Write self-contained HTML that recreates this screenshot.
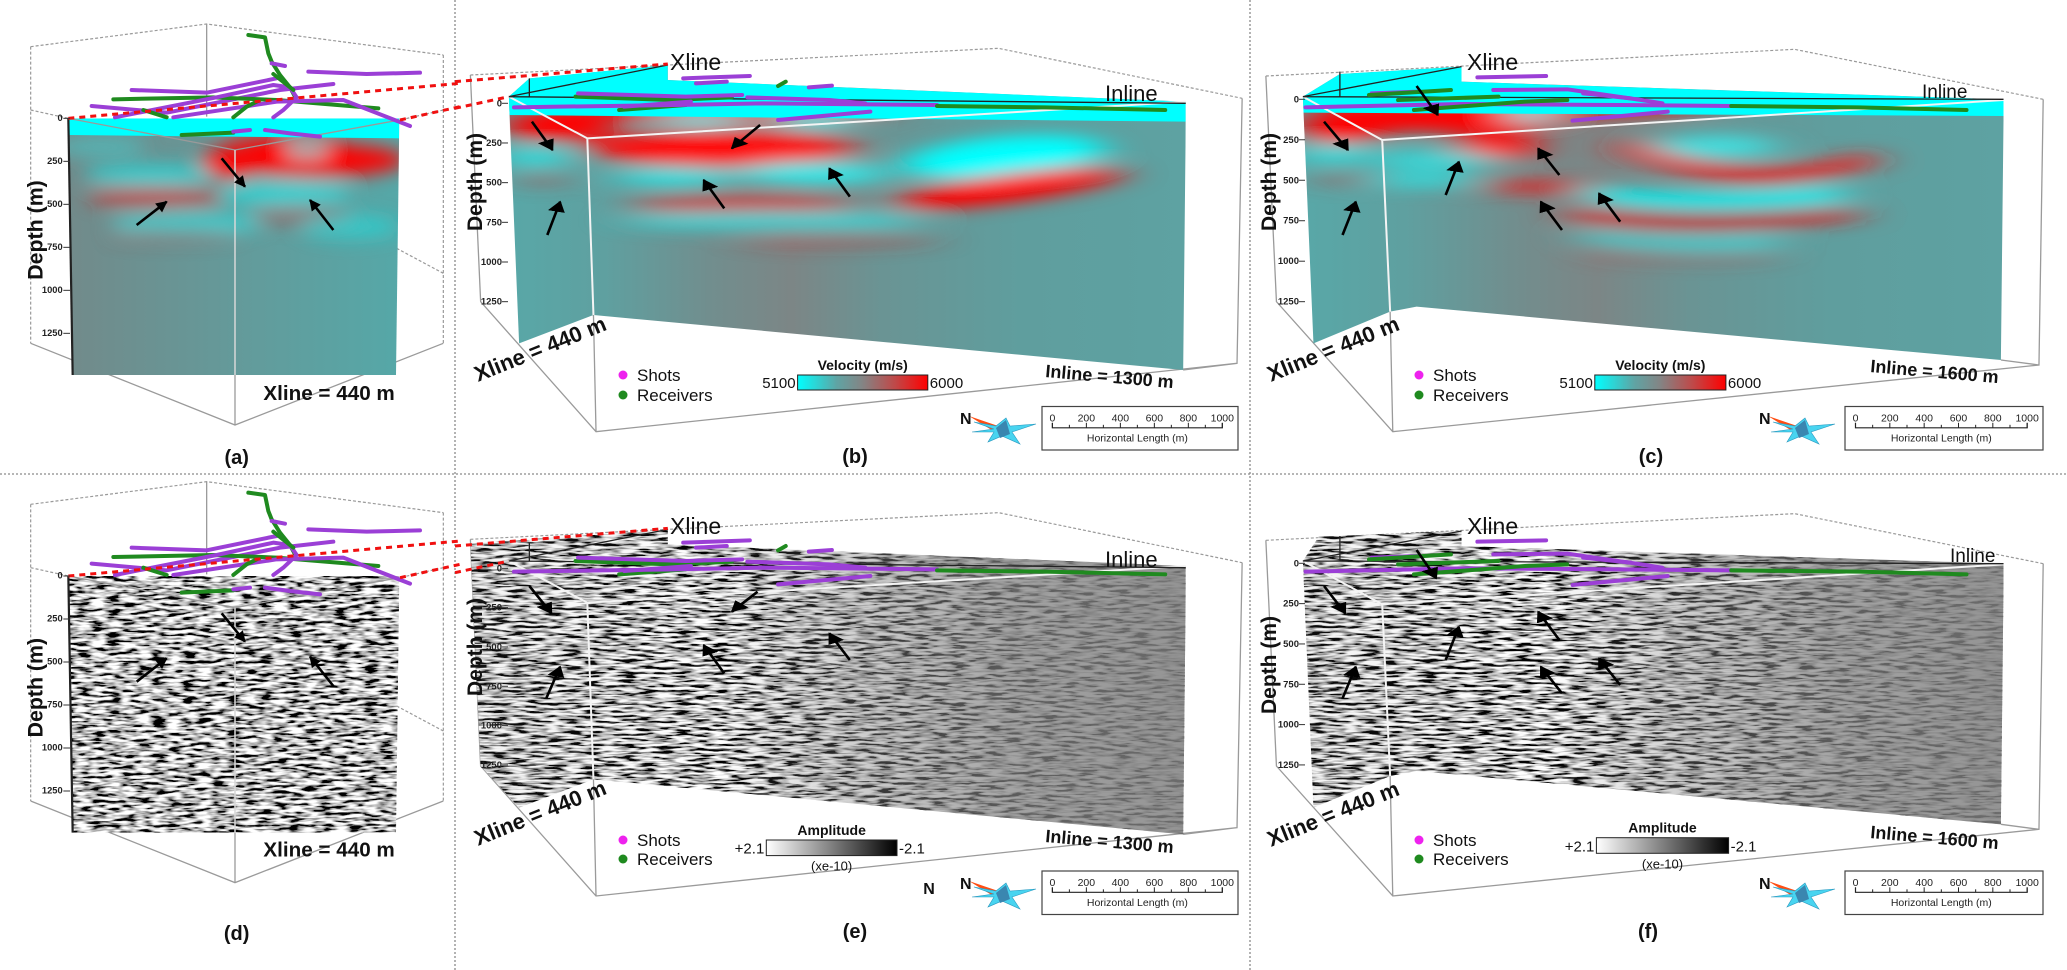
<!DOCTYPE html>
<html><head><meta charset="utf-8">
<style>
html,body{margin:0;padding:0;background:#fff;}
svg{display:block;font-family:"Liberation Sans",Arial,sans-serif;}
.dot{fill:none;stroke:#9a9a9a;stroke-width:1.2;stroke-dasharray:3 2;vector-effect:non-scaling-stroke}
.gl{fill:none;stroke:#9a9a9a;stroke-width:1.3;vector-effect:non-scaling-stroke}
.wl{fill:none;stroke:#f4f4f4;stroke-width:2;vector-effect:non-scaling-stroke}
.bl{fill:none;stroke:#222;stroke-width:1.3;vector-effect:non-scaling-stroke}
.pu{fill:none;stroke:#9b3fd6;stroke-width:4;stroke-linecap:round;stroke-linejoin:round;vector-effect:non-scaling-stroke}
.gr{fill:none;stroke:#1f8a1f;stroke-width:4;stroke-linecap:round;stroke-linejoin:round;vector-effect:non-scaling-stroke}
.rd{fill:none;stroke:#f01010;stroke-width:3;stroke-dasharray:6 5;vector-effect:non-scaling-stroke}
.ar{fill:none;stroke:#000;stroke-width:2.6;vector-effect:non-scaling-stroke}
.sep{fill:none;stroke:#8a8a8a;stroke-width:1.3;stroke-dasharray:2 2}
.lbl{font-weight:bold;fill:#111}
</style></head>
<body>
<svg id="fig" width="2067" height="970" viewBox="0 0 2067 970">
<defs>
  <marker id="ahA" viewBox="0 0 10 10" refX="9" refY="5" markerWidth="40" markerHeight="34" markerUnits="userSpaceOnUse" orient="auto"><path d="M0,0 L10,5 L0,10 z" fill="#000"/></marker>
  <marker id="ahB" viewBox="0 0 10 10" refX="9" refY="5" markerWidth="34" markerHeight="34" markerUnits="userSpaceOnUse" orient="auto"><path d="M0,0 L10,5 L0,10 z" fill="#000"/></marker>
  <linearGradient id="baseA" x1="0" x2="1" y1="0" y2="0"><stop offset="0" stop-color="#728a8a"/><stop offset="0.5" stop-color="#649a9a"/><stop offset="1" stop-color="#55a8a8"/></linearGradient>
  <linearGradient id="baseB" x1="0" x2="1" y1="0" y2="0"><stop offset="0" stop-color="#58a8a8"/><stop offset="0.15" stop-color="#5fa0a0"/><stop offset="0.3" stop-color="#718e8e"/><stop offset="0.42" stop-color="#7c8686"/><stop offset="0.55" stop-color="#6a9494"/><stop offset="0.75" stop-color="#5f9e9e"/><stop offset="1" stop-color="#5ea2a2"/></linearGradient>
  <linearGradient id="velBar" x1="0" x2="1" y1="0" y2="0"><stop offset="0" stop-color="#00ffff"/><stop offset="0.3" stop-color="#5fa4a4"/><stop offset="0.5" stop-color="#848484"/><stop offset="0.75" stop-color="#c04848"/><stop offset="1" stop-color="#ff0000"/></linearGradient>
  <linearGradient id="ampBar" x1="0" x2="1" y1="0" y2="0"><stop offset="0" stop-color="#ffffff"/><stop offset="1" stop-color="#000000"/></linearGradient>
  <linearGradient id="fadeB" x1="0" x2="1" y1="0" y2="0"><stop offset="0" stop-color="#808080" stop-opacity="0.1"/><stop offset="0.35" stop-color="#808080" stop-opacity="0"/><stop offset="0.55" stop-color="#808080" stop-opacity="0.4"/><stop offset="0.75" stop-color="#808080" stop-opacity="0.72"/><stop offset="1" stop-color="#808080" stop-opacity="0.85"/></linearGradient>
  <filter id="blurA" x="-20%" y="-50%" width="140%" height="200%"><feGaussianBlur stdDeviation="28"/></filter>
  <filter id="blurB" x="-20%" y="-50%" width="140%" height="200%"><feGaussianBlur stdDeviation="40 24"/></filter>
  <filter id="seisA" x="0" y="0" width="1" height="1"><feTurbulence type="fractalNoise" baseFrequency="0.022 0.11" numOctaves="2" seed="4"/><feColorMatrix type="matrix" values="3.6 0 0 0 -1.3  3.6 0 0 0 -1.3  3.6 0 0 0 -1.3  0 0 0 0 1"/></filter>
  <filter id="seisB" x="0" y="0" width="1" height="1"><feTurbulence type="fractalNoise" baseFrequency="0.028 0.13" numOctaves="2" seed="7"/><feColorMatrix type="matrix" values="3.6 0 0 0 -1.3  3.6 0 0 0 -1.3  3.6 0 0 0 -1.3  0 0 0 0 1"/></filter>
  <clipPath id="clipA"><polygon points="205,355 1198,355 1188,1125 218,1125"/></clipPath>
  <clipPath id="clipB"><polygon points="105,290 145,235 415,195 415,240 1425,305 1425,370 1420,1110 270,945 125,1030"/></clipPath>
  <clipPath id="clipC"><polygon points="100,290 170,222 400,200 400,245 1425,298 1425,350 1420,1080 315,920 265,935 120,1030"/></clipPath>
  <clipPath id="clipE"><polygon points="30,237 415,197 415,240 1425,305 1425,370 1420,1110 270,945 125,1030 50,905"/></clipPath>
  <clipPath id="clipF"><polygon points="100,290 130,217 400,200 400,245 1425,298 1425,350 1420,1080 315,920 265,935 120,1030"/></clipPath>

  <g id="frameA">
    <path class="dot" d="M92,140 L620,72 L1330,165 M92,140 L92,1030 M1330,165 L1330,1030 M92,330 L205,355 M1330,330 L1200,360 M1190,745 L1330,820"/>
    <path class="gl" d="M620,72 L620,350 M92,1030 L705,1275 L1330,1030"/>
  </g>
  <g id="frameA2">
    <path class="gl" d="M205,355 L705,450 L1198,360 M705,1125 L705,1275"/>
    <path d="M705,450 L705,1125" fill="none" stroke="#d8d8d8" stroke-width="1.5" vector-effect="non-scaling-stroke"/>
    <path class="bl" d="M205,355 L218,1125" style="stroke-width:2.2"/>
  </g>
  <g id="acqA">
    <polyline class="gr" points="745,105 795,112 805,160 815,185 840,225 870,262 885,290"/>
    <polyline class="pu" points="815,190 855,198"/>
    <polyline class="pu" points="925,215 1100,222 1260,218"/>
    <polyline class="pu" points="395,270 620,278 830,235"/>
    <polyline class="pu" points="275,318 500,338 840,270 1000,252"/>
    <polyline class="gr" points="340,298 640,292 830,300 1135,325"/>
    <polyline class="pu" points="345,352 650,292 820,255 870,262 890,292 850,330 820,352"/>
    <polyline class="pu" points="520,352 830,305 1030,300 1230,378"/>
    <polyline class="gr" points="430,330 500,352"/>
    <polyline class="gr" points="700,352 740,320 780,300"/>
    <polyline class="gr" points="820,222 880,270"/>
    <polyline class="gr" points="545,405 700,398"/>
    <polyline class="pu" points="700,395 750,390"/>
    <polyline class="pu" points="795,390 870,400 960,410"/>
    <path class="rd" d="M205,355 L1380,250 M1200,360 L1380,320"/>
  </g>

  <g id="frameB">
    <path class="dot" d="M30,225 L1060,145 L1535,295"/>
    <path class="gl" d="M30,225 L50,905 L275,1295 L1525,1090 L1535,295 M270,945 L275,1295 M1420,1110 L1525,1090"/>
  </g>
  <g id="frameB2">
    <path class="wl" d="M105,290 L258,415 L1425,305 M258,415 L270,945"/>
    <path class="bl" d="M105,290 L415,195 M105,290 L1425,310 M145,235 L145,290"/>
  </g>
  <g id="acqB">
    <polyline class="pu" points="445,235 575,228"/>
    <polyline class="pu" points="470,250 530,245"/>
    <polyline class="gr" points="630,258 645,245"/>
    <polyline class="pu" points="690,262 735,257"/>
    <polyline class="gr" points="235,290 420,300 540,292"/>
    <polyline class="pu" points="240,280 450,290 560,285"/>
    <polyline class="gr" points="320,330 450,315"/>
    <polyline class="pu" points="115,322 430,315 600,310 940,315"/>
    <polyline class="pu" points="570,292 730,300 800,310"/>
    <polyline class="gr" points="940,318 1150,322 1385,330"/>
    <polyline class="pu" points="630,360 810,335"/>
    <polyline class="pu" points="330,320 460,305"/>
  </g>
  <g id="frameC">
    <path class="dot" d="M30,228 L1030,148 L1500,298"/>
    <path class="gl" d="M30,228 L50,905 L270,1295 L1492,1095 L1500,298 M265,935 L270,1295 M1420,1080 L1492,1095"/>
  </g>
  <g id="frameC2">
    <path class="wl" d="M100,290 L250,420 L1425,300 M250,420 L265,935"/>
    <path class="bl" d="M100,290 L400,200 M100,290 L1425,298 M170,215 L170,290"/>
  </g>
  <g id="acqC">
    <polyline class="pu" points="430,232 560,228"/>
    <polyline class="pu" points="230,280 320,275"/>
    <polyline class="gr" points="225,285 380,270"/>
    <polyline class="gr" points="280,300 470,290"/>
    <polyline class="pu" points="460,270 600,268 740,300 780,310"/>
    <polyline class="pu" points="105,322 400,312 700,315 910,318"/>
    <polyline class="gr" points="310,330 520,305 600,300"/>
    <polyline class="pu" points="630,280 720,295"/>
    <polyline class="pu" points="610,362 790,335"/>
    <polyline class="gr" points="910,318 1150,322 1355,330"/>
  </g>
</defs>

<!-- separators -->
<path class="sep" d="M455,0 L455,970 M1250,0 L1250,970 M0,474 L2067,474"/>

<!-- PANEL A -->
<g id="panelA" transform="scale(0.33333)">
  <use href="#frameA"/>
  <g clip-path="url(#clipA)">
    <rect x="200" y="350" width="1010" height="790" fill="url(#baseA)"/>
    <g filter="url(#blurA)">
      <ellipse cx="300" cy="440" rx="140" ry="30" fill="#3fd0d0" opacity="0.6"/>
      <ellipse cx="950" cy="480" rx="270" ry="50" fill="#ff0000"/>
      <ellipse cx="690" cy="490" rx="90" ry="45" fill="#ff0000"/>
      <ellipse cx="850" cy="428" rx="180" ry="18" fill="#ff0000"/>
      <ellipse cx="920" cy="450" rx="70" ry="16" fill="#3fd8d8"/>
      <ellipse cx="450" cy="525" rx="200" ry="30" fill="#20e0e0" opacity="0.8"/>
      <ellipse cx="470" cy="592" rx="210" ry="26" fill="#e02020" opacity="0.8"/>
      <ellipse cx="850" cy="580" rx="200" ry="35" fill="#20e0e0" opacity="0.8"/>
      <ellipse cx="900" cy="645" rx="150" ry="28" fill="#c03030" opacity="0.5"/>
      <ellipse cx="560" cy="670" rx="230" ry="30" fill="#20e0e0" opacity="0.8"/>
      <ellipse cx="1050" cy="680" rx="150" ry="35" fill="#20e0e0" opacity="0.6"/>
      <ellipse cx="520" cy="705" rx="200" ry="18" fill="#c03030" opacity="0.4"/>
    </g>
    <polygon points="205,355 1198,355 1198,415 205,405" fill="#00ffff"/>
  </g>
  <use href="#frameA2"/>
  <use href="#acqA"/>
  <g>
    <path class="ar" d="M410,675 L500,605" marker-end="url(#ahA)"/>
    <path class="ar" d="M665,475 L735,560" marker-end="url(#ahA)"/>
    <path class="ar" d="M1000,690 L930,600" marker-end="url(#ahA)"/>
  </g>
  <g id="ticksA"></g>
  <text class="lbl" x="0" y="0" font-size="64" transform="translate(128,690) rotate(-90)" text-anchor="middle">Depth (m)</text>
  <text class="lbl" x="790" y="1200" font-size="62">Xline = 440 m</text>
  <text class="lbl" x="710" y="1392" font-size="60" text-anchor="middle">(a)</text>
</g>

<!-- PANEL D -->
<g id="panelD" transform="translate(0,470) scale(0.33333) translate(0,-37)">
  <use href="#frameA"/>
  <g clip-path="url(#clipA)">
    <rect x="200" y="350" width="1010" height="790" fill="#808080" filter="url(#seisA)"/>
  </g>
  <use href="#frameA2"/>
  <use href="#acqA"/>
  <g>
    <path class="ar" d="M410,672 L500,602" marker-end="url(#ahA)"/>
    <path class="ar" d="M665,467 L735,552" marker-end="url(#ahA)"/>
    <path class="ar" d="M1000,685 L930,597" marker-end="url(#ahA)"/>
  </g>
  <g id="ticksD"></g>
  <text class="lbl" x="0" y="0" font-size="64" transform="translate(128,690) rotate(-90)" text-anchor="middle">Depth (m)</text>
  <text class="lbl" x="790" y="1197" font-size="62">Xline = 440 m</text>
  <text class="lbl" x="710" y="1447" font-size="60" text-anchor="middle">(d)</text>
</g>

<!-- PANEL B -->
<g id="panelB" transform="translate(455,0) scale(0.5128,0.33333)">
  <use href="#frameB"/>
  <g clip-path="url(#clipB)">
    <rect x="90" y="180" width="1350" height="950" fill="url(#baseB)"/>
    <g filter="url(#blurB)">
      <ellipse cx="500" cy="335" rx="360" ry="22" fill="#ff0000"/>
      <ellipse cx="180" cy="378" rx="90" ry="45" fill="#ff0000"/>
      <ellipse cx="270" cy="372" rx="40" ry="60" fill="#ff0000"/>
      <ellipse cx="520" cy="445" rx="260" ry="55" fill="#ff1010"/>
      <ellipse cx="480" cy="362" rx="90" ry="20" fill="#30e8e8"/>
      <ellipse cx="700" cy="362" rx="80" ry="25" fill="#30e8e8"/>
      <ellipse cx="1070" cy="470" rx="200" ry="60" fill="#00ffff" transform="rotate(-8 1070 470)"/>
      <ellipse cx="700" cy="520" rx="150" ry="35" fill="#30e8e8"/>
      <ellipse cx="430" cy="530" rx="120" ry="30" fill="#30e0e0"/>
      <ellipse cx="1080" cy="565" rx="230" ry="42" fill="#ff0000" transform="rotate(-12 1080 565)"/>
      <ellipse cx="560" cy="615" rx="220" ry="25" fill="#e02020" opacity="0.9"/>
      <ellipse cx="620" cy="662" rx="300" ry="30" fill="#30e0e0" opacity="0.8"/>
      <ellipse cx="750" cy="722" rx="200" ry="20" fill="#c03838" opacity="0.45"/>
      <ellipse cx="160" cy="470" rx="60" ry="30" fill="#30e0e0"/>
      <ellipse cx="170" cy="540" rx="60" ry="20" fill="#c04040" opacity="0.5"/>
    </g>
    <polygon points="105,290 145,235 415,195 415,240 1425,305 1425,365 105,345" fill="#00ffff"/>
  </g>
  <use href="#frameB2"/>
  <use href="#acqB"/>
  <path class="rd" d="M0,245 L415,192 M0,325 L105,290"/>
  <g>
    <path class="ar" d="M150,365 L190,450" marker-end="url(#ahB)"/>
    <path class="ar" d="M180,705 L205,605" marker-end="url(#ahB)"/>
    <path class="ar" d="M595,375 L540,445" marker-end="url(#ahB)"/>
    <path class="ar" d="M525,625 L485,540" marker-end="url(#ahB)"/>
    <path class="ar" d="M770,590 L730,505" marker-end="url(#ahB)"/>
  </g>
</g>

<!-- PANEL E -->
<g id="panelE" transform="translate(455,480) scale(0.5128,0.33333)">
  <g transform="translate(0,-47)">
    <use href="#frameB"/>
    <g clip-path="url(#clipE)">
      <rect x="20" y="180" width="1420" height="950" fill="#808080" filter="url(#seisB)"/>
      <rect x="20" y="180" width="1420" height="950" fill="url(#fadeB)"/>
    </g>
    <use href="#frameB2"/>
    <use href="#acqB"/>
    <path class="rd" d="M0,245 L415,192 M0,325 L105,290"/>
  </g>
  <g>
    <path class="ar" d="M145,318 L188,400" marker-end="url(#ahB)"/>
    <path class="ar" d="M178,655 L205,560" marker-end="url(#ahB)"/>
    <path class="ar" d="M590,335 L540,395" marker-end="url(#ahB)"/>
    <path class="ar" d="M525,580 L485,495" marker-end="url(#ahB)"/>
    <path class="ar" d="M770,540 L730,460" marker-end="url(#ahB)"/>
  </g>
</g>

<!-- PANEL C -->
<g id="panelC" transform="translate(1250,0) scale(0.5288,0.33333)">
  <use href="#frameC"/>
  <g clip-path="url(#clipC)">
    <rect x="90" y="180" width="1350" height="920" fill="url(#baseB)"/>
    <g filter="url(#blurB)">
      <ellipse cx="500" cy="325" rx="380" ry="22" fill="#ff0000"/>
      <ellipse cx="170" cy="380" rx="80" ry="55" fill="#ff0000"/>
      <ellipse cx="250" cy="360" rx="40" ry="50" fill="#ff0000"/>
      <ellipse cx="420" cy="360" rx="180" ry="40" fill="#ff0000"/>
      <ellipse cx="470" cy="440" rx="80" ry="40" fill="#ff1010"/>
      <ellipse cx="530" cy="340" rx="40" ry="25" fill="#00ffff"/>
      <ellipse cx="880" cy="440" rx="120" ry="35" fill="#40e0e0"/>
      <path d="M700,430 Q930,600 1180,470" fill="none" stroke="#f02020" stroke-width="45"/>
      <path d="M640,580 Q850,620 1120,580" fill="none" stroke="#00ffff" stroke-width="40"/>
      <path d="M600,640 Q850,700 1150,640" fill="none" stroke="#e02020" stroke-width="35"/>
      <path d="M620,705 Q800,745 1000,722" fill="none" stroke="#30e0e0" stroke-width="30"/>
      <path d="M640,760 Q820,790 1000,770" fill="none" stroke="#c04040" stroke-width="20" opacity="0.5"/>
      <ellipse cx="540" cy="560" rx="100" ry="20" fill="#e02020"/>
      <ellipse cx="350" cy="480" rx="120" ry="25" fill="#30e0e0"/>
      <ellipse cx="330" cy="540" rx="100" ry="20" fill="#30e0e0"/>
      <ellipse cx="160" cy="460" rx="60" ry="30" fill="#30e0e0"/>
      <ellipse cx="170" cy="540" rx="60" ry="20" fill="#c04040" opacity="0.5"/>
    </g>
    <polygon points="100,290 170,222 400,200 400,245 1425,298 1425,348 100,338" fill="#00ffff"/>
  </g>
  <use href="#frameC2"/>
  <use href="#acqC"/>
  <g>
    <path class="ar" d="M140,365 L185,450" marker-end="url(#ahB)"/>
    <path class="ar" d="M175,705 L200,605" marker-end="url(#ahB)"/>
    <path class="ar" d="M315,258 L355,345" marker-end="url(#ahB)"/>
    <path class="ar" d="M370,585 L395,485" marker-end="url(#ahB)"/>
    <path class="ar" d="M585,525 L545,445" marker-end="url(#ahB)"/>
    <path class="ar" d="M590,690 L550,605" marker-end="url(#ahB)"/>
    <path class="ar" d="M700,665 L660,580" marker-end="url(#ahB)"/>
  </g>
</g>

<!-- PANEL F -->
<g id="panelF" transform="translate(1250,480) scale(0.5288,0.33333)">
  <g transform="translate(0,-47)">
    <use href="#frameC"/>
    <g clip-path="url(#clipF)">
      <rect x="90" y="180" width="1350" height="920" fill="#808080" filter="url(#seisB)"/>
      <rect x="90" y="180" width="1350" height="920" fill="url(#fadeB)"/>
    </g>
    <use href="#frameC2"/>
    <use href="#acqC"/>
  </g>
  <g>
    <path class="ar" d="M140,318 L180,400" marker-end="url(#ahB)"/>
    <path class="ar" d="M175,655 L200,560" marker-end="url(#ahB)"/>
    <path class="ar" d="M315,210 L352,295" marker-end="url(#ahB)"/>
    <path class="ar" d="M370,540 L395,440" marker-end="url(#ahB)"/>
    <path class="ar" d="M585,480 L545,395" marker-end="url(#ahB)"/>
    <path class="ar" d="M590,640 L550,560" marker-end="url(#ahB)"/>
    <path class="ar" d="M700,615 L660,535" marker-end="url(#ahB)"/>
  </g>
</g>

<!-- TEXT OVERLAYS for wide panels (actual px) -->
<g id="textB">
  <text x="670" y="70" font-size="23" fill="#111">Xline</text>
  <text x="1105" y="101" font-size="22" fill="#111">Inline</text>
  <text class="lbl" x="0" y="0" font-size="22" transform="translate(478,382) rotate(-22)">Xline = 440 m</text>
  <text class="lbl" x="0" y="0" font-size="18" transform="translate(1045,377) rotate(5)">Inline = 1300 m</text>
  <text class="lbl" x="0" y="0" font-size="21" transform="translate(482,182) rotate(-90)" text-anchor="middle">Depth (m)</text>
  <text class="lbl" x="855" y="463" font-size="20" text-anchor="middle">(b)</text>
</g>
<g id="textE">
  <text x="670" y="534" font-size="23" fill="#111">Xline</text>
  <text x="1105" y="567" font-size="22" fill="#111">Inline</text>
  <text class="lbl" x="0" y="0" font-size="22" transform="translate(478,846) rotate(-22)">Xline = 440 m</text>
  <text class="lbl" x="0" y="0" font-size="18" transform="translate(1045,842) rotate(5)">Inline = 1300 m</text>
  <text class="lbl" x="0" y="0" font-size="21" transform="translate(482,647) rotate(-90)" text-anchor="middle">Depth (m)</text>
  <text class="lbl" x="929" y="894" font-size="16" text-anchor="middle">N</text>
  <text class="lbl" x="855" y="938" font-size="20" text-anchor="middle">(e)</text>
</g>
<g id="textC">
  <text x="1467" y="70" font-size="23" fill="#111">Xline</text>
  <text x="1922" y="98" font-size="19" fill="#111">Inline</text>
  <text class="lbl" x="0" y="0" font-size="22" transform="translate(1271,382) rotate(-22)">Xline = 440 m</text>
  <text class="lbl" x="0" y="0" font-size="18" transform="translate(1870,372) rotate(5)">Inline = 1600 m</text>
  <text class="lbl" x="0" y="0" font-size="21" transform="translate(1276,182) rotate(-90)" text-anchor="middle">Depth (m)</text>
  <text class="lbl" x="1651" y="463" font-size="20" text-anchor="middle">(c)</text>
</g>
<g id="textF">
  <text x="1467" y="534" font-size="23" fill="#111">Xline</text>
  <text x="1950" y="562" font-size="19" fill="#111">Inline</text>
  <text class="lbl" x="0" y="0" font-size="22" transform="translate(1271,847) rotate(-22)">Xline = 440 m</text>
  <text class="lbl" x="0" y="0" font-size="18" transform="translate(1870,838) rotate(5)">Inline = 1600 m</text>
  <text class="lbl" x="0" y="0" font-size="21" transform="translate(1276,665) rotate(-90)" text-anchor="middle">Depth (m)</text>
  <text class="lbl" x="1648" y="938" font-size="20" text-anchor="middle">(f)</text>
</g>
<g id="dyn"></g>
</svg>

<script>
// ---- data arrays ----
const depthTicks = [0, 250, 500, 750, 1000, 1250];
const scaleLabels = [0, 200, 400, 600, 800, 1000];
const velocityRange = ["5100", "6000"];
const amplitudeRange = ["+2.1", "-2.1"];
const legendItems = ["Shots", "Receivers"];
const legendColors = ["#ee22ee", "#1f8a1f"];

const NS = "http://www.w3.org/2000/svg";
const dyn = document.getElementById("dyn");
function mk(tag, attrs, parent) {
  const el = document.createElementNS(NS, tag);
  for (const k in attrs) el.setAttribute(k, attrs[k]);
  (parent || dyn).appendChild(el);
  return el;
}

function axisA(v) { return 355 + v * 0.516; }
function depthPanels() {
  return [
    {x: 506, y0: 103.3, k: 0.1587},
    {x: 506, y0: 568.3, k: 0.1573},
    {x: 1303, y0: 99.3, k: 0.1619},
    {x: 1303, y0: 563.3, k: 0.1613}
  ];
}

["ticksA", "ticksD"].forEach(function (gid) {
  const g = document.getElementById(gid);
  depthTicks.forEach(function (v) {
    const y = axisA(v);
    const t = mk("line", {x1: 190, x2: 210, y1: y, y2: y, stroke: "#333", "stroke-width": 3}, g);
    
    
    const lb = mk("text", {x: 188, y: y + 8, "font-size": 28, "text-anchor": "end", "font-weight": "bold", fill: "#222"}, g);
    
    
    lb.textContent = v;
  });
});

depthPanels().forEach(function (p) {
  depthTicks.forEach(function (v) {
    const y = p.y0 + v * p.k;
    const t = mk("line", {x1: p.x - 4, x2: p.x + 2, y1: y, y2: y, stroke: "#333", "stroke-width": 1});
    
    
    const lb = mk("text", {x: p.x - 4, y: y + 3, "font-size": 9.5, "text-anchor": "end", "font-weight": "bold", fill: "#222"});
    
    
    lb.textContent = v;
  });
});

function legend(x, y0, dy) {
  legendItems.forEach(function (name, i) {
    const c = mk("circle", {cx: x, cy: y0 + i * dy - 6, r: 4.5, fill: legendColors[i]});
    
    
    const t = mk("text", {x: x + 14, y: y0 + i * dy, "font-size": 17, fill: "#111"});
    
    
    t.textContent = name;
  });
}
legend(623, 381, 20);
legend(1419, 381, 20);
legend(623, 846, 19);
legend(1419, 846, 19);

function colorbar(x0, x1, y, h, grad, labels, title, sub) {
  const r = mk("rect", {x: x0, y: y, width: x1 - x0, height: h, fill: "url(#" + grad + ")", stroke: "#222", "stroke-width": 1});
  
  
  const l = mk("text", {x: x0 - 2, y: y + h - 2, "font-size": 15, "text-anchor": "end", fill: "#111"});
  
  
  l.textContent = labels[0];
  const rr = mk("text", {x: x1 + 2, y: y + h - 2, "font-size": 15, fill: "#111"});
  
  
  rr.textContent = labels[1];
  const t = mk("text", {x: (x0 + x1) / 2, y: y - 5, "font-size": 14, "font-weight": "bold", "text-anchor": "middle", fill: "#111"});
  
  
  t.textContent = title;
  if (sub) {
    const s = mk("text", {x: (x0 + x1) / 2, y: y + h + 15, "font-size": 13, "text-anchor": "middle", fill: "#111"});
    
    
    s.textContent = sub;
  }
}
colorbar(797.6, 927.8, 375, 15, "velBar", velocityRange, "Velocity (m/s)");
colorbar(1594.8, 1725.9, 375, 15, "velBar", velocityRange, "Velocity (m/s)");
colorbar(766.3, 897, 840, 15.6, "ampBar", amplitudeRange, "Amplitude", "(xe-10)");
colorbar(1596.4, 1728.6, 837.7, 15.6, "ampBar", amplitudeRange, "Amplitude", "(xe-10)");

function scalebar(x0, y0, w, h) {
  const g = mk("g", {});
  
  
  const r = mk("rect", {x: x0, y: y0, width: w, height: h, fill: "#fff", stroke: "#444", "stroke-width": 1.2}, g);
  
  
  const a = x0 + 0.053 * w, b = x0 + 0.92 * w, ay = y0 + 0.49 * h;
  const maxV = scaleLabels[scaleLabels.length - 1];
  function sx(v) { return a + (b - a) * v / maxV; }
  const ln = mk("path", {d: "M" + a + "," + (ay - 5) + " L" + a + "," + ay + " L" + b + "," + ay + " L" + b + "," + (ay - 5), fill: "none", stroke: "#222", "stroke-width": 1.2}, g);
  
  
  for (let v = 0; v <= maxV; v += 100) {
    const tk = mk("line", {x1: sx(v), x2: sx(v), y1: ay, y2: ay - (v % 200 === 0 ? 5 : 3), stroke: "#222", "stroke-width": 1}, g);
    
    
  }
  scaleLabels.forEach(function (v) {
    const t = mk("text", {x: sx(v), y: y0 + 0.34 * h, "font-size": 10.5, "text-anchor": "middle", fill: "#222"}, g);
    
    
    t.textContent = v;
  });
  const tt = mk("text", {x: (a + b) / 2, y: y0 + 0.8 * h, "font-size": 10.5, "text-anchor": "middle", fill: "#222"}, g);
  
  
  tt.textContent = "Horizontal Length (m)";
}
scalebar(1042, 406.5, 196, 43.5);
scalebar(1845, 406.5, 198, 43.5);
scalebar(1042, 871, 196, 43.5);
scalebar(1845, 871, 198, 43.5);

function compass(cx, cy) {
  const g = mk("g", {transform: "translate(" + cx + "," + cy + ")"});
  
  
  const n = mk("polygon", {points: "-33,-14 2,-2 -4,4", fill: "#ff4d12"}, g);
  
  
  const s = mk("polygon", {points: "-28,-8 -6,-4 4,-12 8,-4 34,-6 10,2 18,14 0,6 -14,12 -8,2 -30,2 -8,-1", fill: "#48d4f0", stroke: "#2a9ac0", "stroke-width": 0.6}, g);
  
  
  const c = mk("polygon", {points: "-6,-2 4,-10 8,4 -2,8", fill: "#3a86b0"}, g);
  
  
  const t = mk("text", {x: -42, y: -6, "font-size": 16, "font-weight": "bold", fill: "#111"}, g);
  
  
  t.textContent = "N";
}
compass(1002, 430);
compass(1801, 430);
compass(1002, 895);
compass(1801, 895);
</script>
</body></html>
